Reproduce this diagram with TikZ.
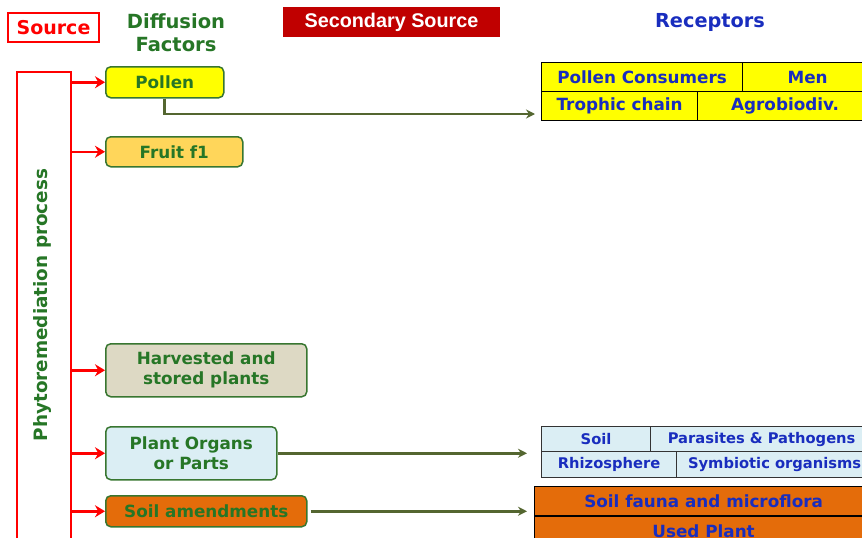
\documentclass[tikz,border=0pt]{standalone}
\usepackage{fontspec}
\setmainfont{DejaVu Sans}
\newfontfamily\arialfont{Liberation Sans}
\usepackage{tikz}
\usetikzlibrary{arrows.meta}

\definecolor{srcred}{RGB}{255,0,0}
\definecolor{txtgreen}{RGB}{38,118,38}
\definecolor{boxgreen}{RGB}{56,118,48}
\definecolor{linkolive}{RGB}{84,102,48}
\definecolor{rcpblue}{RGB}{25,45,190}
\definecolor{darkred}{RGB}{192,0,0}
\definecolor{pollenyel}{RGB}{255,255,0}
\definecolor{fruitgold}{RGB}{255,214,90}
\definecolor{hvbeige}{RGB}{221,217,196}
\definecolor{organblue}{RGB}{219,238,244}
\definecolor{amendorange}{RGB}{228,108,10}

\tikzset{
  factor/.style={draw=boxgreen,line width=1.5pt,rounded corners=5pt,anchor=north west,
    text=txtgreen,font=\bfseries\fontsize{16.8}{20}\selectfont,align=center,inner sep=0pt},
  cell/.style={draw=black,line width=1.2pt,anchor=north west,inner sep=0pt,
    text=rcpblue,font=\bfseries\fontsize{16.8}{18}\selectfont},
  smallcell/.style={cell,fill=organblue,draw=black!80,font=\bfseries\fontsize{14.7}{16}\selectfont},
  redarrow/.style={draw=srcred,line width=2.5pt,-{Stealth[length=10pt,width=12pt]}},
  olivearrow/.style={draw=linkolive,line width=2.8pt,-{Stealth[length=9pt,width=9pt]}},
}

\begin{document}
\begin{tikzpicture}[x=1pt,y=-1pt]

\useasboundingbox (0,0) rectangle (862,538);
\clip (0,0) rectangle (862,538);

% headers
\node[draw=srcred,line width=1.5pt,text=srcred,minimum width=91pt,minimum height=29pt,
  inner sep=0pt,font=\bfseries\fontsize{19}{20}\selectfont] (source) at (53.5,27.5) {Source};
\node[text=txtgreen,align=center,font=\bfseries\fontsize{19.5}{23}\selectfont] (diffusion) at (176,33) {Diffusion\\Factors};
\node[fill=darkred,text=white,minimum width=217pt,minimum height=30pt,inner sep=0pt,
  font=\arialfont\bfseries\fontsize{19.8}{20}\selectfont] (secondary) at (391.5,22) {Secondary Source};
\node[text=rcpblue,font=\bfseries\fontsize{19.3}{20}\selectfont] (receptors) at (710,22) {Receptors};

% source
\node[draw=srcred,line width=2.5pt,minimum width=54pt,minimum height=470pt,inner sep=0pt] (phyto) at (44,307) {};
\node[rotate=90,text=txtgreen,font=\bfseries\fontsize{18.4}{22}\selectfont] (phytolabel) at (42,305) {Phytoremediation process};

% diffusion factors
\node[factor,fill=pollenyel,minimum width=118pt,minimum height=31pt] (pollen) at (105,66) {Pollen};
\node[factor,fill=fruitgold,minimum width=137pt,minimum height=30pt] (fruit) at (105,136) {Fruit f1};
\node[factor,fill=hvbeige,minimum width=201pt,minimum height=53pt] (harvested) at (105,343) {Harvested and\\stored plants};
\node[factor,fill=organblue,minimum width=171pt,minimum height=53pt] (organs) at (105,426) {Plant Organs\\or Parts};
\node[factor,fill=amendorange,minimum width=201pt,minimum height=31pt] (amend) at (105,495) {Soil amendments};

\foreach \f in {pollen,fruit,harvested,organs,amend}
  \draw[redarrow] (phyto.east |- \f.west) -- (\f.west);

% receptors
\node[cell,fill=pollenyel,minimum width=201pt,minimum height=29pt] (consumers) at (541,62) {Pollen Consumers};
\node[cell,fill=pollenyel,minimum width=130pt,minimum height=29pt] (men) at (742,62) {Men};
\node[cell,fill=pollenyel,minimum width=156pt,minimum height=29pt] (trophic) at (541,91) {Trophic chain};
\node[cell,fill=pollenyel,minimum width=175pt,minimum height=29pt] (agro) at (697,91) {Agrobiodiv.};

\node[smallcell,minimum width=109pt,minimum height=25pt] (soil) at (541,426) {Soil};
\node[smallcell,minimum width=222pt,minimum height=25pt] (parasites) at (650,426) {Parasites \& Pathogens};
\node[smallcell,minimum width=135pt,minimum height=26pt] (rhizo) at (541,451) {Rhizosphere};
\node[smallcell,minimum width=196pt,minimum height=26pt] (symbio) at (676,451) {Symbiotic organisms};

\node[cell,fill=amendorange,minimum width=338pt,minimum height=29pt] (fauna) at (534,486) {Soil fauna and microflora};
\node[cell,fill=amendorange,minimum width=338pt,minimum height=29pt] (used) at (534,516) {Used Plant};

% links
\coordinate (pin) at (535,114);
\coordinate (oin) at (527,450);
\coordinate (ain) at (527,514);
\draw[olivearrow] (pollen.south) |- (pin);
\draw[olivearrow] (organs.east) -- (organs.east -| oin);
\draw[olivearrow] ([xshift=3pt]amend.east) -- (amend.east -| ain);

\end{tikzpicture}
\end{document}
